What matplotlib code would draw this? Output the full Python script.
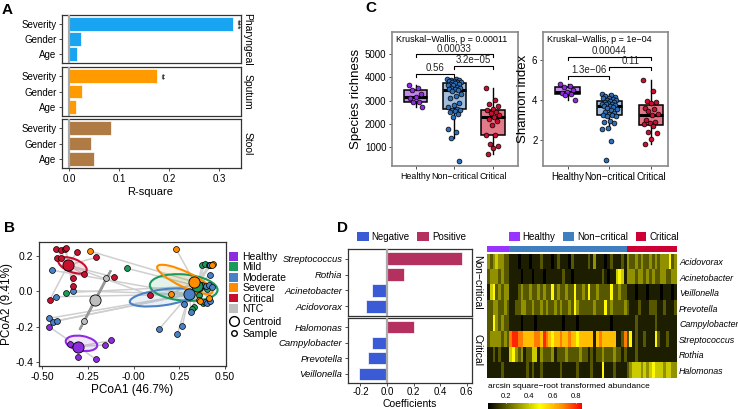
import numpy as np
import matplotlib
matplotlib.use('Agg')
import matplotlib.pyplot as plt
from matplotlib.patches import Ellipse, Patch
from matplotlib.lines import Line2D
from matplotlib.colors import LinearSegmentedColormap, ListedColormap

plt.rcParams['font.family'] = ['Liberation Sans', 'DejaVu Sans']
plt.rcParams['axes.unicode_minus'] = False

# ---- A: PERMANOVA R-square per body site
factors = ['Severity', 'Gender', 'Age']
sites = ['Pharyngeal', 'Sputum', 'Stool']
r2_pharyngeal = [0.328, 0.024, 0.016]
r2_sputum = [0.176, 0.026, 0.014]
r2_stool = [0.084, 0.043, 0.050]
site_stars = ['***', '**', '']
site_colors = ['#18A4F0', '#FF9A00', '#B07A45']

# ---- B: PCoA samples per group (PC1, PC2)
groups_b = ['Healthy', 'Mild', 'Moderate', 'Severe', 'Critical', 'NTC']
colors_b = ['#8E2BE0', '#1B9A5A', '#4A80C4', '#FF8C00', '#C8102E', '#BEBEBE']
healthy_x = [-0.462, -0.349, -0.309, -0.303, -0.207, -0.158, -0.121]
healthy_y = [-0.200, -0.299, -0.303, -0.369, -0.383, -0.303, -0.278]
mild_x = [-0.034, -0.367, 0.375, 0.39, 0.41, 0.42, 0.376, 0.362, 0.40, 0.331, 0.322, 0.38, 0.36]
mild_y = [0.129, -0.008, 0.15, 0.155, 0.148, 0.147, 0.035, 0.02, 0.01, -0.087, -0.10, -0.068, -0.02]
moderate_x = [-0.445, -0.422, -0.331, -0.462, -0.440, -0.418, 0.139, 0.240, 0.267, 0.277,
              0.315, 0.417, 0.395, 0.41, 0.43, 0.39, 0.40, 0.42, 0.416]
moderate_y = [0.119, -0.031, 0.003, -0.153, -0.171, -0.168, -0.215, -0.241, -0.196, -0.072,
              -0.115, 0.094, 0.03, 0.035, 0.025, -0.06, -0.065, -0.055, 0.15]
severe_x = [-0.236, 0.234, 0.434, 0.207, 0.355, 0.362, 0.43, 0.41]
severe_y = [0.226, 0.236, 0.151, -0.015, -0.05, -0.055, 0.15, -0.04]
critical_x = [-0.422, -0.398, -0.372, -0.367, -0.309, -0.203, -0.418, -0.394, -0.272, -0.331,
              -0.331, -0.108, -0.458, 0.088]
critical_y = [0.241, 0.232, 0.241, 0.245, 0.219, 0.191, 0.185, 0.185, 0.097, 0.072,
              0.029, 0.080, -0.050, -0.021]
ntc_x = [-0.152, -0.270]
ntc_y = [0.072, -0.168]
centroid_x = [-0.303, 0.348, 0.304, 0.332, -0.358, -0.209]
centroid_y = [-0.312, 0.029, -0.017, 0.052, 0.147, -0.050]
# confidence ellipses: centre x, centre y, width, height, angle
ell_cx = [-0.284, 0.274, 0.159, 0.28, -0.333, -0.209]
ell_cy = [-0.294, 0.021, -0.035, 0.067, 0.146, -0.050]
ell_w = [0.174, 0.371, 0.362, 0.334, 0.165, 0.377]
ell_h = [0.083, 0.148, 0.09, 0.085, 0.075, 0.004]
ell_ang = [-10, -5, 8, -26, -22, 63]

# ---- C: alpha diversity
groups_c = ['Healthy', 'Non\u2212critical', 'Critical']
rich_healthy = [3690, 3560, 3450, 3300, 3160, 3090, 2940, 2940, 2700]
rich_noncrit = [3950, 3930, 3900, 3880, 3860, 3850, 3820, 3800, 3780, 3750, 3720, 3700, 3680,
                3650, 3600, 3560, 3530, 3500, 3480, 3450, 3400, 3300, 3200, 3100, 2900, 2800,
                2700, 2650, 2600, 2580, 2550, 2500, 2400, 2300, 1750, 1650, 1380, 380]
rich_crit = [3520, 3040, 2830, 2760, 2640, 2580, 2500, 2440, 2370, 2300, 2220, 2100, 1940,
             1520, 1500, 1140, 1040, 930, 710]
shan_healthy = [4.78, 4.7, 4.63, 4.5, 4.42, 4.35, 4.3, 4.25, 4.0]
shan_noncrit = [4.3, 4.25, 4.2, 4.15, 4.1, 4.08, 4.05, 4.0, 3.98, 3.95, 3.9, 3.88, 3.85, 3.82,
                3.8, 3.78, 3.75, 3.7, 3.7, 3.65, 3.6, 3.55, 3.5, 3.4, 3.35, 3.3, 3.25, 3.25,
                3.2, 3.2, 2.95, 2.9, 2.85, 2.6, 2.55, 1.95, 1.0]
shan_crit = [5.0, 4.45, 3.95, 3.9, 3.85, 3.6, 3.55, 3.45, 3.3, 3.25, 3.0, 2.9, 2.85, 2.8,
             2.7, 2.4, 2.35, 2.05, 1.8]
rich_pairs = [(1, 2, '0.56'), (2, 3, '3.2e\u221205'), (1, 3, '0.00033')]
rich_bracket_y = [4140, 4500, 5000]
shan_pairs = [(1, 2, '1.3e\u221206'), (2, 3, '0.11'), (1, 3, '0.00044')]
shan_bracket_y = [5.2, 5.67, 6.17]
box_fill = ['#C28BEA', '#A3BEDD', '#E27A8A']
point_col = ['#8E2BE0', '#2F6DB5', '#C8102E']

# ---- D: coefficients and heatmap
genera_nc = ['Streptococcus', 'Rothia', 'Acinetobacter', 'Acidovorax']
coef_nc = [0.566, 0.13, -0.115, -0.16]
genera_cr = ['Halomonas', 'Campylobacter', 'Prevotella', 'Veillonella']
coef_cr = [0.205, -0.115, -0.14, -0.21]
heat_rows = ['Acidovorax', 'Acinetobacter', 'Veillonella', 'Prevotella',
             'Campylobacter', 'Streptococcus', 'Rothia', 'Halomonas']
n_healthy, n_noncrit, n_crit = 8, 42, 18
# abundance levels per sample (tenths), healthy | non-critical | critical
heat_levels = [
    '32343322' + '1110111' '0111211' '1012111' '0211111' '2131110' '1211121' + '322323223232333523',
    '23332322' + '1111011' '1011101' '1111121' '1011111' '1111121' '0114541' + '333233232322332233',
    '14523233' + '1112322' '3223232' '2523223' '2252232' '5223222' '2522322' + '111011101111011101',
    '22332232' + '1122332' '2322323' '2232322' '3253222' '2232225' '2322223' + '211121112221121112',
    '22532322' + '1111011' '1101111' '1111101' '1110111' '1111111' '1011111' + '111211111121111111',
    '23333232' + '7887766' '6677687' '6566766' '7665666' '6616766' '6661127' + '251211211152112111',
    '11212111' + '4532312' '2441322' '2312223' '2222322' '1212232' '2232212' + '111211111111111111',
    '11111211' + '1111112' '1211211' '1111211' '1112111' '1211151' '1121111' + '234443434544434433',
]
group_cols = ['#9933FF', '#3F7FBF', '#CC0033']

W, H = 738, 409
fig = plt.figure(figsize=(W / 100, H / 100), dpi=100)


def box(x0, y0, x1, y1):
    return fig.add_axes([x0 / W, 1 - y1 / H, (x1 - x0) / W, (y1 - y0) / H])


def ptext(x, y, s, **kw):
    fig.text(x / W, 1 - y / H, s, **kw)


def frame(ax, col='#333333', lw=0.9):
    for sp in ax.spines.values():
        sp.set_color(col)
        sp.set_linewidth(lw)
    ax.tick_params(length=2.5, width=0.6, labelsize=7, color='#333333', pad=1.5)


# ================= A
ys_a = [(15, 63), (67, 116), (119, 168)]
vals_a = [r2_pharyngeal, r2_sputum, r2_stool]
for i in range(3):
    ax = box(62, ys_a[i][0], 241, ys_a[i][1])
    ypos = [3, 2, 1]
    ax.barh(ypos, vals_a[i], height=0.9, color=site_colors[i], edgecolor='white', lw=0.5, zorder=2)
    ax.axvline(0, color='#AAAAAA', lw=1.6, zorder=3)
    ax.set_xlim(-0.014, 0.344)
    ax.set_ylim(0.4, 3.6)
    ax.set_yticks(ypos)
    ax.set_yticklabels(factors)
    frame(ax)
    if i < 2:
        ax.set_xticks([])
    else:
        ax.set_xticks([0, 0.1, 0.2, 0.3])
        ax.set_xticklabels(['0.0', '0.1', '0.2', '0.3'])
    if site_stars[i]:
        ax.text(vals_a[i][0] + 0.008, 3, site_stars[i], rotation=-90, ha='center', va='center',
                fontsize=6.5)
    ax.text(1.035, 0.5, sites[i], rotation=-90, ha='center', va='center', fontsize=7.5,
            transform=ax.transAxes)
ptext(150, 192, 'R-square', ha='center', va='center', fontsize=8)
ptext(2, 10, 'A', fontsize=11, fontweight='bold', va='center')

# ================= B
ax = box(39, 242, 226, 366)
xs_b = [healthy_x, mild_x, moderate_x, severe_x, critical_x, ntc_x]
yy_b = [healthy_y, mild_y, moderate_y, severe_y, critical_y, ntc_y]
for g in range(6):
    for px, py in zip(xs_b[g], yy_b[g]):
        ax.plot([px, centroid_x[g]], [py, centroid_y[g]], color='#CFCFCF', lw=1.1, zorder=1)
for g in range(6):
    ax.add_patch(Ellipse((ell_cx[g], ell_cy[g]), ell_w[g], ell_h[g], angle=ell_ang[g],
                         facecolor=colors_b[g], alpha=0.12, edgecolor='none', zorder=2))
    ax.add_patch(Ellipse((ell_cx[g], ell_cy[g]), ell_w[g], ell_h[g], angle=ell_ang[g],
                         facecolor='none', edgecolor=colors_b[g] if g < 5 else '#999999',
                         lw=1.5, zorder=3))
for g in range(6):
    ax.scatter(xs_b[g], yy_b[g], s=18, color=colors_b[g], edgecolor='black', lw=0.5, zorder=4)
    ax.scatter([centroid_x[g]], [centroid_y[g]], s=65, color=colors_b[g], edgecolor='black',
               lw=0.6, zorder=5)
ax.set_xlim(-0.516, 0.505)
ax.set_ylim(-0.422, 0.278)
ax.set_xticks([-0.5, -0.25, 0, 0.25, 0.5])
ax.set_xticklabels(['-0.50', '-0.25', '-0.00', '0.25', '0.50'])
ax.set_yticks([-0.4, -0.2, 0, 0.2])
ax.set_yticklabels(['-0.4', '-0.2', '0.0', '0.2'])
frame(ax)
ax.tick_params(labelsize=7.5)
ax.set_xlabel('PCoA1 (46.7%)', fontsize=8.5, labelpad=2)
ax.set_ylabel('PCoA2 (9.41%)', fontsize=8.5, labelpad=2)
h1 = [Patch(facecolor=c, edgecolor='none', label=l) for c, l in zip(colors_b, groups_b)]
fig.legend(handles=h1, loc='upper left', bbox_to_anchor=(229 / W, 1 - 252 / H),
           frameon=False, fontsize=7.5, handlelength=0.9, handleheight=0.9,
           handletextpad=0.4, labelspacing=0.04, borderaxespad=0, borderpad=0)
h2 = [Line2D([], [], marker='o', ls='', mfc='white', mec='black', ms=7, label='Centroid'),
      Line2D([], [], marker='o', ls='', mfc='white', mec='black', ms=4, label='Sample')]
fig.legend(handles=h2, loc='upper left', bbox_to_anchor=(229 / W, 1 - 317 / H),
           frameon=False, fontsize=7.5, handlelength=0.9, handletextpad=0.4,
           labelspacing=0.2, borderaxespad=0, borderpad=0)
ptext(4, 228, 'B', fontsize=11, fontweight='bold', va='center')


# ================= C
def diversity(ax, data, pairs, ys, ylim, yticks, ylabel, xlim, kw_text, xfs):
    bp = ax.boxplot(data, positions=[1, 2, 3], widths=0.6, patch_artist=True,
                    showfliers=False, showcaps=False,
                    medianprops=dict(color='black', lw=2.2),
                    whiskerprops=dict(color='black', lw=1),
                    boxprops=dict(edgecolor='black', lw=1.1))
    for p, c in zip(bp['boxes'], box_fill):
        p.set_facecolor(c)
    for k, vals in enumerate(data):
        n = len(vals)
        jit = ((np.arange(n) * 0.618) % 1 - 0.5) * 0.36
        ax.scatter(k + 1 + jit, vals, s=12, color=point_col[k], edgecolor='black', lw=0.5,
                   zorder=4)
    d = (ylim[1] - ylim[0]) * 0.024
    for (a, b, lab), y in zip(pairs, ys):
        ax.plot([a, a, b, b], [y - d, y, y, y - d], color='black', lw=0.8)
        ax.text((a + b) / 2, y + d * 0.2, lab, ha='center', va='bottom', fontsize=7,
                color='#222222')
    ax.set_xlim(*xlim)
    ax.set_ylim(*ylim)
    ax.set_yticks(yticks)
    ax.set_xticks([1, 2, 3])
    ax.set_xticklabels(groups_c)
    frame(ax, col='#888888', lw=1.2)
    ax.tick_params(labelsize=7)
    ax.tick_params(axis='x', labelsize=xfs)
    ax.set_ylabel(ylabel, fontsize=9.5, labelpad=2)
    ax.text(0.03, 0.975, kw_text, transform=ax.transAxes, ha='left', va='top', fontsize=6.5)


ax = box(392, 32, 518, 166)
diversity(ax, [rich_healthy, rich_noncrit, rich_crit], rich_pairs, rich_bracket_y,
          (170, 5960), [1000, 2000, 3000, 4000, 5000], 'Species richness', (0.38, 3.65),
          'Kruskal\u2212Wallis, p = 0.00011', 6.4)
ax = box(543, 32, 668, 166)
diversity(ax, [shan_healthy, shan_noncrit, shan_crit], shan_pairs, shan_bracket_y,
          (0.7, 7.4), [2, 4, 6], 'Shannon index', (0.4, 3.41),
          'Kruskal\u2212Wallis, p = 1e\u221204', 7)
ptext(365, 8, 'C', fontsize=11, fontweight='bold', va='center')

# ================= D
neg_col, pos_col = '#3B5BD6', '#B3305F'
ys_d = [(249, 316), (318, 383)]
gen_d = [genera_nc, genera_cr]
coef_d = [coef_nc, coef_cr]
strip_d = ['Non\u2212critical', 'Critical']
for i in range(2):
    ax = box(348, ys_d[i][0], 472, ys_d[i][1])
    ypos = [4, 3, 2, 1]
    cols = [pos_col if v > 0 else neg_col for v in coef_d[i]]
    ax.barh(ypos, coef_d[i], height=0.8, color=cols, edgecolor='white', lw=0.5, zorder=2)
    ax.axvline(0, color='#AAAAAA', lw=1.6, zorder=3)
    ax.set_xlim(-0.294, 0.64)
    ax.set_ylim(0.4, 4.6)
    ax.set_yticks(ypos)
    ax.set_yticklabels(gen_d[i], fontstyle='italic', fontsize=6.8)
    frame(ax)
    ax.tick_params(axis='y', labelsize=6.8)
    if i == 0:
        ax.set_xticks([])
    else:
        ax.set_xticks([-0.2, 0, 0.2, 0.4, 0.6])
        ax.set_xticklabels(['-0.2', '0.0', '0.2', '0.4', '0.6'])
        ax.tick_params(axis='x', labelsize=7, pad=1, length=2)
    ax.text(1.045, 0.5, strip_d[i], rotation=-90, ha='center', va='center', fontsize=7.5,
            transform=ax.transAxes)
ptext(410, 399, 'Coefficients', ha='center', va='top', fontsize=7.5)
fig.legend(handles=[Patch(facecolor=neg_col, label='Negative'),
                    Patch(facecolor=pos_col, label='Positive')],
           loc='upper left', bbox_to_anchor=(357 / W, 1 - 232 / H), ncol=2, frameon=False,
           fontsize=7, handlelength=1.2, handleheight=1.0, handletextpad=0.3,
           columnspacing=0.8, borderaxespad=0, borderpad=0)
ptext(337, 228, 'D', fontsize=11, fontweight='bold', va='center')

# heatmap
heat = np.array([[int(c) / 10 for c in row] for row in heat_levels])
cmap = LinearSegmentedColormap.from_list(
    'abund', [(0, '#000000'), (0.55, '#FFFF00'), (0.78, '#FF9500'), (1, '#FF0000')])
axh = box(487, 254, 677, 378)
im = axh.imshow(heat, aspect='auto', cmap=cmap, vmin=0.05, vmax=0.85, interpolation='nearest')
axh.set_xticks([])
axh.yaxis.tick_right()
axh.set_yticks(range(len(heat_rows)))
axh.set_yticklabels(heat_rows, fontstyle='italic', fontsize=6.4)
axh.tick_params(length=0, pad=1.5)
for sp in axh.spines.values():
    sp.set_visible(False)

grp = np.array([[0] * n_healthy + [1] * n_noncrit + [2] * n_crit])
axg = box(487, 246, 677, 252)
axg.imshow(grp, aspect='auto', cmap=ListedColormap(group_cols), vmin=0, vmax=2,
           interpolation='nearest')
axg.set_xticks([])
axg.set_yticks([])
for sp in axg.spines.values():
    sp.set_visible(False)
fig.legend(handles=[Patch(facecolor=c, label=l) for c, l in
                    zip(group_cols, ['Healthy', 'Non\u2212critical', 'Critical'])],
           loc='upper left', bbox_to_anchor=(509 / W, 1 - 232 / H), ncol=3, frameon=False,
           fontsize=7, handlelength=1.1, handleheight=1.0, handletextpad=0.3,
           columnspacing=0.8, borderaxespad=0, borderpad=0)

cax = box(488, 403, 582, 412)
cb = fig.colorbar(im, cax=cax, orientation='horizontal')
cb.set_ticks([0.2, 0.4, 0.6, 0.8])
cax.xaxis.set_ticks_position('top')
cax.tick_params(labelsize=5.5, length=1.5, pad=0.3, color='white')
cb.outline.set_visible(False)
ptext(488, 387, 'arcsin square\u2212root transformed abundance', ha='left', va='center',
      fontsize=6)

fig.savefig('out.png', dpi=100)
